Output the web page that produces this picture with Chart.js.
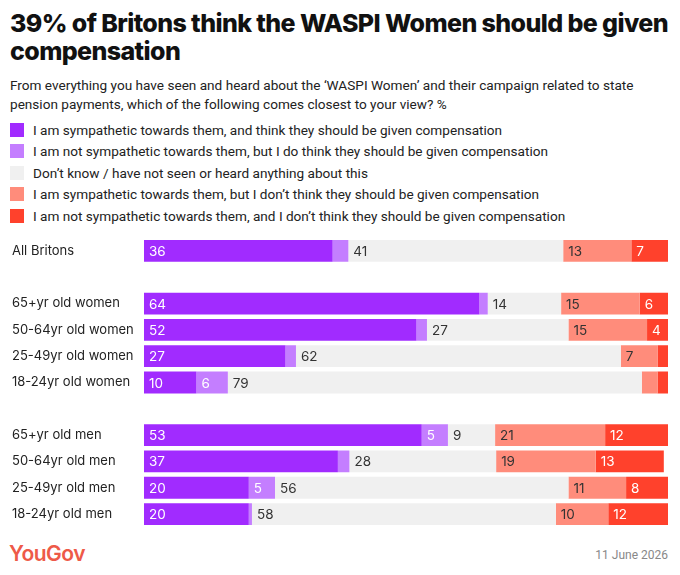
<!DOCTYPE html>
<html>
<head>
<meta charset="utf-8">
<script src="https://cdn.jsdelivr.net/npm/chart.js@4.4.1/dist/chart.umd.min.js"></script>
<style>
  body { margin: 0; width: 680px; height: 575px; background: #fff; position: relative; font-family: Roboto, sans-serif; color: #222; overflow: hidden; }
  h1 { position: absolute; left: 10px; top: 9px; margin: 0; font-family: Inter, sans-serif; font-weight: 800; font-size: 25px; line-height: 28px; letter-spacing: -0.6px; color: #111; white-space: nowrap; }
  .sub { position: absolute; left: 10px; top: 76px; width: 665px; font-size: 13.6px; line-height: 18.5px; color: #222; }
  .legend { position: absolute; left: 10px; top: 119px; }
  .legend div { height: 21.5px; display: flex; align-items: center; font-size: 13.6px; }
  .legend span.sw { width: 14px; height: 14px; margin-right: 9px; display: inline-block; }
  #wrap { position: absolute; left: 0; top: 230px; width: 680px; height: 305px; }
  .logo { position: absolute; left: 9px; top: 541px; font-family: Inter, sans-serif; font-weight: 600; font-size: 21px; letter-spacing: -0.5px; color: #EE5A48; }
  .date { position: absolute; right: 12px; top: 548px; font-size: 12px; color: #888; }
</style>
</head>
<body>
<h1>39% of Britons think the WASPI Women should be given<br>compensation</h1>
<div class="sub">From everything you have seen and heard about the ‘WASPI Women’ and their campaign related to state pension payments, which of the following comes closest to your view? %</div>
<div class="legend" id="legend"></div>
<div id="wrap"><canvas id="chart"></canvas></div>
<div class="logo">YouGov</div>
<div class="date">11 June 2026</div>
<script>
// categories (empty strings are spacer rows)
const groups = ['All Britons', '', '65+yr old women', '50-64yr old women', '25-49yr old women', '18-24yr old women',
                '', '65+yr old men', '50-64yr old men', '25-49yr old men', '18-24yr old men'];

const seriesNames = [
    'I am sympathetic towards them, and think they should be given compensation',
    'I am not sympathetic towards them, but I do think they should be given compensation',
    'Don’t know / have not seen or heard anything about this',
    'I am sympathetic towards them, but I don’t think they should be given compensation',
    'I am not sympathetic towards them, and I don’t think they should be given compensation'
];
const seriesColors = ['#A12BFF', '#C47EFF', '#F0F0F0', '#FF8C7B', '#FF412C'];
const labelColors = ['#fff', '#fff', '#333', '#333', '#fff'];

// values per series (null = spacer row)
const sympYes    = [36, null, 64, 52, 27, 10, null, 53, 37, 20, 20];
const notSympYes = [3, null, 1.6, 2, 2, 6, null, 5, 2.2, 5, 0.6];
const dontKnow   = [41, null, 14, 27, 62, 79, null, 9, 28, 56, 58];
const sympNo     = [13, null, 15, 15, 7, 3, null, 21, 19, 11, 10];
const notSympNo  = [7, null, 6, 4, 2, 2, null, 12, 13, 8, 12];

const seriesValues = [sympYes, notSympYes, dontKnow, sympNo, notSympNo];

// legend in html
const legendEl = document.getElementById('legend');
seriesNames.forEach((name, i) => {
    const row = document.createElement('div');
    row.innerHTML = '<span class="sw" style="background:' + seriesColors[i] + '"></span>' + name;
    legendEl.appendChild(row);
});

// draws the numbers inside the bars
const barLabels = {
    id: 'barLabels',
    afterDatasetsDraw(chart) {
        const ctx = chart.ctx;
        ctx.save();
        ctx.font = '13.5px Inter, sans-serif';
        ctx.textBaseline = 'middle';
        ctx.textAlign = 'left';
        chart.data.datasets.forEach((ds, i) => {
            chart.getDatasetMeta(i).data.forEach((bar, j) => {
                const v = ds.data[j];
                if (v == null || v < 4) return;
                ctx.fillStyle = labelColors[i];
                ctx.fillText(Math.round(v), bar.base + 5, bar.y + 1);
            });
        });
        ctx.restore();
    }
};

new Chart(document.getElementById('chart'), {
    type: 'bar',
    data: {
        labels: groups,
        datasets: seriesValues.map((vals, i) => ({
            label: seriesNames[i],
            data: vals,
            backgroundColor: seriesColors[i],
            borderWidth: 0,
            categoryPercentage: 1,
            barPercentage: 0.83
        }))
    },
    options: {
        indexAxis: 'y',
        responsive: true,
        maintainAspectRatio: false,
        animation: false,
        layout: { padding: { left: 12, right: 12, top: 0, bottom: 0 } },
        scales: {
            x: { stacked: true, min: 0, max: 100, display: false },
            y: {
                stacked: true,
                grid: { display: false },
                border: { display: false },
                ticks: {
                    crossAlign: 'far',
                    color: '#222',
                    padding: 0,
                    font: { family: 'Inter, sans-serif', size: 13 }
                },
                afterFit(axis) { axis.width = 132; }
            }
        },
        plugins: {
            legend: { display: false },
            tooltip: { enabled: false }
        }
    },
    plugins: [barLabels]
});
</script>
</body>
</html>
